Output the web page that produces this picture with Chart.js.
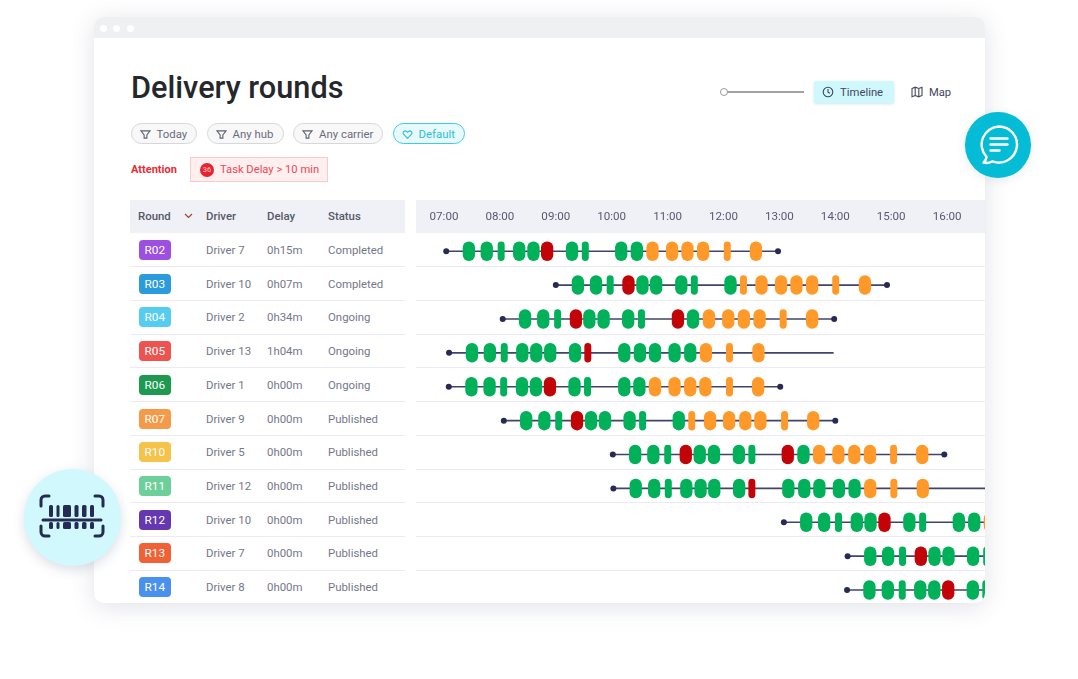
<!DOCTYPE html>
<html>
<head>
<meta charset="utf-8">
<title>Delivery rounds</title>
<script src="https://cdn.jsdelivr.net/npm/chart.js@4"></script>
<style>
  html, body { margin: 0; background: #fff; overflow: hidden; }
  body { width: 1078px; height: 679px; position: relative; font-family: Roboto, sans-serif; }
  .abs { position: absolute; white-space: nowrap; }
  #card { position: absolute; left: 94px; top: 17px; width: 891px; height: 586px; background: #fff; border-radius: 10px; box-shadow: 0 4px 24px rgba(70, 75, 110, .16); overflow: hidden; }
  #page { position: absolute; left: -94px; top: -17px; width: 1078px; height: 679px; }
  .dot { position: absolute; top: 24.5px; width: 7px; height: 7px; border-radius: 50%; background: #fff; }
  .pill { position: absolute; top: 123px; height: 19px; border: 1px solid #d6d7db; background: #f8f8f9; border-radius: 11px; color: #696c7c; font-size: 11.4px; line-height: 20.5px; }
  .pill svg { position: absolute; left: 8px; top: 4.5px; }
  .pill span { position: absolute; white-space: nowrap; }
  .th { position: absolute; top: 200px; height: 33px; line-height: 33px; font-size: 11.4px; font-weight: 500; color: #555868; white-space: nowrap; }
  .td { position: absolute; height: 20px; line-height: 20px; font-size: 11.4px; color: #747789; white-space: nowrap; }
  .badge { position: absolute; left: 139px; width: 31.5px; height: 20px; line-height: 20px; border-radius: 4px; color: #fff; font-size: 11.8px; text-align: center; }
  .rule { position: absolute; height: 1px; background: #ecebf3; }
  #timeline { position: absolute; left: 416px; top: 200px; width: 569px; height: 407px; }
</style>
</head>
<body>
<div id="card">
  <div id="page">
    <div class="abs" style="left:94px;top:17px;width:891px;height:21px;background:#eff0f2"></div>
    <div class="dot" style="left:99.5px"></div>
    <div class="dot" style="left:113px"></div>
    <div class="dot" style="left:126.5px"></div>

    <div class="abs" style="left:131px;top:69px;font-size:30.7px;line-height:37px;font-weight:500;color:#26272b">Delivery rounds</div>

    <div class="pill" style="left:130.5px;width:64px"><svg width="11" height="11" viewBox="0 0 12 12" fill="none" stroke="#5c5f70" stroke-width="1.2"><path d="M1 2h10L7.5 6.5V10H4.5V6.5z"/></svg><span style="left:25px">Today</span></div>
    <div class="pill" style="left:206.5px;width:75px"><svg width="11" height="11" viewBox="0 0 12 12" fill="none" stroke="#5c5f70" stroke-width="1.2"><path d="M1 2h10L7.500 6.500V10H4.500V6.500z"/></svg><span style="left:25px">Any hub</span></div>
    <div class="pill" style="left:293px;width:88px"><svg width="11" height="11" viewBox="0 0 12 12" fill="none" stroke="#5c5f70" stroke-width="1.2"><path d="M1 2h10L7.500 6.500V10H4.500V6.500z"/></svg><span style="left:25px">Any carrier</span></div>
    <div class="pill" style="left:392.5px;width:70.5px;border-color:#3ccde4;background:#e8f9fc;color:#2bc2da"><svg width="11" height="11" viewBox="0 0 12 12" fill="none" stroke="#1fbdd6" stroke-width="1.1"><path d="M6 10.200 1.600 5.600C.2 3.600 2.600 1.200 4.600 2.400L6 3.600l1.400-1.200c2-1.200 4.400 1.200 3 3.200z"/></svg><span style="left:25px">Default</span></div>

    <div class="abs" style="left:131px;top:163px;font-size:11px;line-height:14px;font-weight:700;color:#ea2a34">Attention</div>
    <div class="abs" style="left:190px;top:157px;width:136px;height:23px;background:#ffefef;border:1px solid #fbcaca"></div>
    <div class="abs" style="left:200px;top:163px;width:14px;height:14px;border-radius:50%;background:#e8232f;color:#ffd6d6;font-size:7.5px;line-height:14px;text-align:center">36</div>
    <div class="abs" style="left:220px;top:162px;font-size:11.2px;line-height:16px;color:#ea4a54">Task Delay &gt; 10 min</div>

    <div class="abs" style="left:724px;top:91px;width:80px;height:2px;background:#a2a2a2"></div>
    <div class="abs" style="left:720px;top:88px;width:6px;height:6px;border:1.3px solid #9a9a9a;border-radius:50%;background:#fff"></div>
    <div class="abs" style="left:813.5px;top:81px;width:80.5px;height:22px;background:#cff8fd;border-radius:2px;box-shadow:0 1px 3px rgba(70,150,170,.25)"></div>
    <svg class="abs" style="left:822px;top:86px" width="12" height="12" viewBox="0 0 12 12" fill="none" stroke="#3f4460" stroke-width="1.1"><circle cx="6" cy="6" r="4.800"/><path d="M6 3v3.200l2 1"/></svg>
    <div class="abs" style="left:840px;top:84.500px;font-size:11.3px;line-height:16px;color:#43475f">Timeline</div>
    <svg class="abs" style="left:911px;top:86px" width="12" height="12" viewBox="0 0 12 12" fill="none" stroke="#43475f" stroke-width="1.1"><path d="M1 2.500 4.200 1.200l3.600 1.300L11 1.200v8.300L7.800 10.800 4.200 9.500 1 10.800zM4.200 1.200v8.300M7.800 2.500v8.300"/></svg>
    <div class="abs" style="left:929px;top:84.500px;font-size:11.2px;line-height:16px;color:#43475f">Map</div>

    <div class="abs" style="left:130px;top:200px;width:275px;height:33px;background:#f0f1f6"></div>
    <div class="abs" style="left:416px;top:200px;width:569px;height:33px;background:#f0f1f6"></div>
    <div class="th" style="left:138px">Round</div>
    <svg class="abs" style="left:184px;top:213px" width="9" height="6" viewBox="0 0 9 6" fill="none" stroke="#a5452f" stroke-width="1.2"><path d="M1 1l3.500 3.500L8 1"/></svg>
    <div class="th" style="left:206px">Driver</div>
    <div class="th" style="left:267px">Delay</div>
    <div class="th" style="left:328px">Status</div>

    <div id="tableRows"></div>
    <div id="timeline"><canvas id="roundsChart" width="569" height="407"></canvas></div>
  </div>
</div>

<div class="abs" style="left:965px;top:112px;width:65.5px;height:65.5px;border-radius:50%;background:#05bcd6;box-shadow:0 2px 10px rgba(60,80,110,.12)"></div>
<svg class="abs" style="left:975px;top:122px" width="46" height="46" viewBox="0 0 46 46" fill="none" stroke="#fff" stroke-width="2.400" stroke-linecap="round" stroke-linejoin="round">
  <path d="M24 4.500a18 18 0 1 1-6.500 34.800c-3 1.600-6.500 2-9 1.300 1.700-1.500 2.800-3.500 3-5.800A18 18 0 0 1 24 4.500z"/>
  <path d="M15.500 16.500h17M15.500 22.500h17M15.500 28.500h9"/>
</svg>

<div class="abs" style="left:24px;top:469px;width:97px;height:97px;border-radius:50%;background:#d0f8fd;box-shadow:0 4px 12px rgba(60,80,110,.18)"></div>
<svg class="abs" style="left:38px;top:494px" width="68" height="44" viewBox="0 0 68 44" fill="none" stroke="#252c54" stroke-width="3" stroke-linecap="round">
  <path d="M3 12V6a4 4 0 0 1 4-4h4M57 2h4a4 4 0 0 1 4 4v6M3 32v6a4 4 0 0 0 4 4h4M57 42h4a4 4 0 0 0 4-4v-6"/>
  <path d="M5 26h58"/>
  <g stroke="none" fill="#252c54">
    <rect x="11" y="11" width="4" height="12" rx="1.500"/><rect x="18.500" y="11" width="3" height="12" rx="1.500"/><rect x="25" y="11" width="8" height="12" rx="1.500"/><rect x="36.500" y="11" width="4" height="12" rx="1.500"/><rect x="44" y="11" width="4.500" height="12" rx="1.500"/><rect x="52" y="11" width="4" height="12" rx="1.500"/>
    <rect x="11" y="28" width="4" height="7" rx="1.500"/><rect x="18.500" y="28" width="3" height="7" rx="1.500"/><rect x="25" y="28" width="8" height="7" rx="1.500"/><rect x="36.500" y="28" width="4" height="7" rx="1.500"/><rect x="44" y="28" width="4.500" height="7" rx="1.500"/><rect x="52" y="28" width="4" height="7" rx="1.500"/>
  </g>
</svg>

<script>
  // table columns
  const rounds = ['R02', 'R03', 'R04', 'R05', 'R06', 'R07', 'R10', 'R11', 'R12', 'R13', 'R14'];
  const drivers = ['Driver 7', 'Driver 10', 'Driver 2', 'Driver 13', 'Driver 1', 'Driver 9', 'Driver 5', 'Driver 12', 'Driver 10', 'Driver 7', 'Driver 8'];
  const delays = ['0h15m', '0h07m', '0h34m', '1h04m', '0h00m', '0h00m', '0h00m', '0h00m', '0h00m', '0h00m', '0h00m'];
  const statuses = ['Completed', 'Completed', 'Ongoing', 'Ongoing', 'Ongoing', 'Published', 'Published', 'Published', 'Published', 'Published', 'Published'];

  // time axis, in hours of the day
  const hourTicks = [7, 8, 9, 10, 11, 12, 13, 14, 15, 16];
  const hourLabels = ['07:00', '08:00', '09:00', '10:00', '11:00', '12:00', '13:00', '14:00', '15:00', '16:00'];

  // route span of every round; R05 has not arrived, so no end marker
  const routeStarts = [7.04, 9.0, 8.05, 7.09, 7.085, 8.07, 10.02, 10.03, 13.08, 14.22, 14.21];
  const routeEnds = [12.975, 14.925, 13.98, 13.97, 13.015, 14.0, 15.95, 17.0, 17.0, 17.0, 17.0];
  const routeFinished = [true, true, true, false, true, true, true, true, true, true, true];

  // stops of every round: [from, to, state]
  const stopsR02 = [[7.335, 7.555, 'ok'], [7.655, 7.875, 'ok'], [7.96, 8.085, 'ok'], [8.235, 8.455, 'ok'], [8.49, 8.71, 'ok'], [8.735, 8.955, 'late'], [9.18, 9.40, 'ok'], [9.465, 9.59, 'ok'], [10.06, 10.28, 'ok'], [10.34, 10.56, 'ok'], [10.62, 10.84, 'risk'], [10.97, 11.19, 'risk'], [11.245, 11.465, 'risk'], [11.525, 11.745, 'risk'], [12.005, 12.13, 'risk'], [12.47, 12.69, 'risk']];
  const stopsR03 = [[9.285, 9.505, 'ok'], [9.61, 9.83, 'ok'], [9.91, 10.035, 'ok'], [10.19, 10.41, 'late'], [10.44, 10.66, 'ok'], [10.685, 10.905, 'ok'], [11.135, 11.355, 'ok'], [11.415, 11.54, 'ok'], [12.015, 12.235, 'ok'], [12.295, 12.42, 'risk'], [12.57, 12.79, 'risk'], [12.92, 13.14, 'risk'], [13.195, 13.415, 'risk'], [13.475, 13.695, 'risk'], [13.945, 14.07, 'risk'], [14.42, 14.64, 'risk']];
  const stopsR04 = [[8.34, 8.56, 'ok'], [8.665, 8.885, 'ok'], [8.97, 9.095, 'ok'], [9.25, 9.47, 'late'], [9.49, 9.71, 'ok'], [9.745, 9.965, 'ok'], [10.185, 10.405, 'ok'], [10.47, 10.595, 'ok'], [11.075, 11.295, 'late'], [11.345, 11.565, 'ok'], [11.63, 11.85, 'risk'], [11.975, 12.195, 'risk'], [12.255, 12.475, 'risk'], [12.535, 12.755, 'risk'], [13.005, 13.13, 'risk'], [13.475, 13.695, 'risk']];
  const stopsR05 = [[7.39, 7.61, 'ok'], [7.71, 7.93, 'ok'], [8.015, 8.14, 'ok'], [8.29, 8.51, 'ok'], [8.54, 8.76, 'ok'], [8.79, 9.01, 'ok'], [9.235, 9.455, 'ok'], [9.51, 9.635, 'late'], [10.115, 10.335, 'ok'], [10.395, 10.615, 'ok'], [10.665, 10.885, 'ok'], [11.015, 11.235, 'ok'], [11.295, 11.515, 'ok'], [11.575, 11.795, 'risk'], [12.045, 12.17, 'risk'], [12.515, 12.735, 'risk']];
  const stopsR06 = [[7.38, 7.60, 'ok'], [7.705, 7.925, 'ok'], [8.005, 8.13, 'ok'], [8.285, 8.505, 'ok'], [8.535, 8.755, 'ok'], [8.785, 9.005, 'late'], [9.225, 9.445, 'ok'], [9.505, 9.63, 'ok'], [10.115, 10.335, 'ok'], [10.385, 10.605, 'ok'], [10.665, 10.885, 'risk'], [11.015, 11.235, 'risk'], [11.295, 11.515, 'risk'], [11.565, 11.785, 'risk'], [12.045, 12.17, 'risk'], [12.51, 12.73, 'risk']];
  const stopsR07 = [[8.36, 8.58, 'ok'], [8.685, 8.905, 'ok'], [8.99, 9.115, 'ok'], [9.27, 9.49, 'late'], [9.52, 9.74, 'ok'], [9.77, 9.99, 'ok'], [10.21, 10.43, 'ok'], [10.49, 10.615, 'ok'], [11.09, 11.31, 'ok'], [11.37, 11.495, 'risk'], [11.65, 11.87, 'risk'], [11.99, 12.21, 'risk'], [12.28, 12.50, 'risk'], [12.55, 12.77, 'risk'], [13.03, 13.155, 'risk'], [13.495, 13.715, 'risk']];
  const stopsR10 = [[10.31, 10.53, 'ok'], [10.635, 10.855, 'ok'], [10.94, 11.065, 'ok'], [11.215, 11.435, 'late'], [11.465, 11.685, 'ok'], [11.72, 11.94, 'ok'], [12.165, 12.385, 'ok'], [12.445, 12.57, 'ok'], [13.04, 13.26, 'late'], [13.32, 13.54, 'ok'], [13.60, 13.82, 'risk'], [13.945, 14.165, 'risk'], [14.23, 14.45, 'risk'], [14.51, 14.73, 'risk'], [14.98, 15.105, 'risk'], [15.445, 15.665, 'risk']];
  const stopsR11 = [[10.32, 10.54, 'ok'], [10.65, 10.87, 'ok'], [10.95, 11.075, 'ok'], [11.225, 11.445, 'ok'], [11.48, 11.70, 'ok'], [11.725, 11.945, 'ok'], [12.17, 12.39, 'ok'], [12.445, 12.57, 'late'], [13.05, 13.27, 'ok'], [13.335, 13.555, 'ok'], [13.605, 13.825, 'ok'], [13.955, 14.175, 'ok'], [14.235, 14.455, 'ok'], [14.515, 14.735, 'risk'], [14.985, 15.11, 'risk'], [15.455, 15.675, 'risk']];
  const stopsR12 = [[13.37, 13.59, 'ok'], [13.69, 13.91, 'ok'], [13.995, 14.12, 'ok'], [14.275, 14.495, 'ok'], [14.52, 14.74, 'ok'], [14.77, 14.99, 'late'], [15.215, 15.435, 'ok'], [15.50, 15.625, 'ok'], [16.10, 16.32, 'ok'], [16.375, 16.595, 'ok'], [16.655, 16.875, 'risk']];
  const stopsR13 = [[14.515, 14.735, 'ok'], [14.835, 15.055, 'ok'], [15.14, 15.265, 'ok'], [15.42, 15.64, 'late'], [15.665, 15.885, 'ok'], [15.915, 16.135, 'ok'], [16.355, 16.575, 'ok'], [16.645, 16.77, 'ok']];
  const stopsR14 = [[14.50, 14.72, 'ok'], [14.83, 15.05, 'ok'], [15.135, 15.26, 'ok'], [15.41, 15.63, 'ok'], [15.66, 15.88, 'ok'], [15.91, 16.13, 'late'], [16.35, 16.57, 'ok'], [16.63, 16.755, 'ok']];

  const allStops = [stopsR02, stopsR03, stopsR04, stopsR05, stopsR06, stopsR07, stopsR10, stopsR11, stopsR12, stopsR13, stopsR14];

  // Styles
  const stateColors = { ok: '#00b159', risk: '#ff9a2a', late: '#c20408' };
  const badgeColors = ['#9c4fe0', '#2c9bdc', '#55cdf0', '#ef5350', '#1d9a50', '#f59a48', '#f5c24a', '#6dd09a', '#6537b0', '#f06236', '#4a90ee'];
  const routeColor = '#41446a';
  const dotColor = '#262a54';

  // Left table and row rules
  const tableRows = document.getElementById('tableRows');
  const rowPitch = 33.74;
  rounds.forEach((round, i) => {
    const center = 249.8 + i * rowPitch;
    const bottom = 233 + (i + 1) * rowPitch;
    tableRows.insertAdjacentHTML('beforeend', `
      <div class="badge" style="top:${center - 10}px;background:${badgeColors[i]}">${round}</div>
      <div class="td" style="left:206px;top:${center - 10}px">${drivers[i]}</div>
      <div class="td" style="left:267px;top:${center - 10}px">${delays[i]}</div>
      <div class="td" style="left:328px;top:${center - 10}px">${statuses[i]}</div>
      <div class="rule" style="left:130px;width:275px;top:${bottom - 0.5}px"></div>
      <div class="rule" style="left:416px;width:569px;top:${bottom - 0.5}px"></div>`);
  });

  function stopsInState(state) {
    const points = [];
    allStops.forEach((stops, i) => {
      stops.forEach(stop => {
        if (stop[2] === state) points.push({ x: [stop[0], stop[1]], y: rounds[i] });
      });
    });
    return points;
  }

  const stopDatasets = ['ok', 'risk', 'late'].map(state => ({
    type: 'bar',
    indexAxis: 'y',
    order: 1,
    data: stopsInState(state),
    backgroundColor: stateColors[state],
    borderRadius: 6,
    borderSkipped: false,
    inflateAmount: 0,
    barThickness: 19.5,
    grouped: false
  }));

  const routeDatasets = rounds.map((round, i) => ({
    type: 'scatter',
    order: 2,
    showLine: true,
    data: [{ x: routeStarts[i], y: round }, { x: routeEnds[i], y: round }],
    borderColor: routeColor,
    borderWidth: 1.6,
    pointBackgroundColor: dotColor,
    pointBorderWidth: 0,
    pointRadius: ctx => (ctx.dataIndex === 0 || routeFinished[i] ? 3 : 0),
    pointHoverRadius: 3
  }));

  new Chart(document.getElementById('roundsChart'), {
    type: 'bar',
    data: { labels: rounds, datasets: [...routeDatasets, ...stopDatasets] },
    options: {
      responsive: false,
      animation: false,
      layout: { padding: 0, autoPadding: false },
      plugins: { legend: { display: false }, tooltip: { enabled: false } },
      scales: {
        x: {
          type: 'linear',
          position: 'top',
          bounds: 'data',
          offset: false,
          min: 6.499,
          max: 16.678,
          grid: { display: false },
          border: { display: false },
          afterBuildTicks: axis => { axis.ticks = hourTicks.map(value => ({ value })); },
          afterFit: axis => { axis.height = 34.25; },
          ticks: {
            autoSkip: false,
            maxRotation: 0,
            padding: 2,
            color: '#555a70',
            font: { family: 'Roboto', size: 11.6 },
            callback: value => hourLabels[hourTicks.indexOf(value)]
          }
        },
        y: { type: 'category', labels: rounds, offset: true, display: false }
      }
    }
  });
</script>
</body>
</html>
